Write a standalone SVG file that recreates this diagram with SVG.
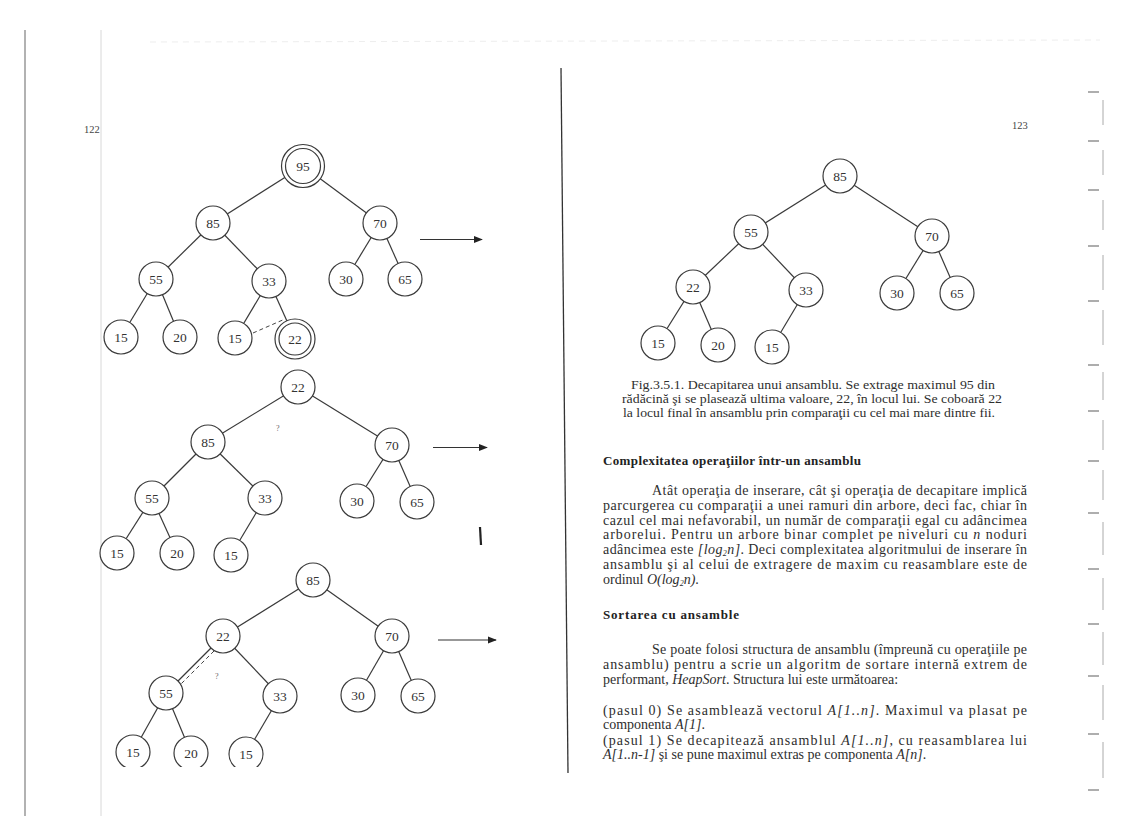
<svg xmlns="http://www.w3.org/2000/svg" width="1123" height="816" viewBox="0 0 1123 816">
<style>
.e{stroke:#3a3a3a;stroke-width:1.2;fill:none}
.d{stroke:#444;stroke-width:1;stroke-dasharray:4 3;fill:none}
.n circle{fill:#fff;stroke:#3a3a3a;stroke-width:1.2}
.n text{font-family:"Liberation Serif",serif;font-size:13.5px;fill:#333;text-anchor:middle}
.ar{stroke:#333;stroke-width:1.2;marker-end:url(#ah)}
.t{font-family:"Liberation Serif",serif;font-size:14px;fill:#2e2e2e}
.c{font-family:"Liberation Serif",serif;font-size:13px;fill:#2e2e2e}
.h{font-family:"Liberation Serif",serif;font-size:13px;font-weight:bold;fill:#222}
.i{font-style:italic}
.s{font-size:8px}
.pg{font-family:"Liberation Serif",serif;font-size:10.5px;fill:#444}
.q{font-family:"Liberation Serif",serif;font-size:8px;fill:#666}
</style>
<defs>
<marker id="ah" viewBox="0 0 10 10" refX="9" refY="5" markerWidth="9" markerHeight="9" markerUnits="userSpaceOnUse" orient="auto"><path d="M0,1 L10,5 L0,9 Z" fill="#222"/></marker>
<clipPath id="cut"><rect x="0" y="0" width="1123" height="767"/></clipPath>
</defs>
<rect width="1123" height="816" fill="#fff"/>

<g id="scan-marks">
<line x1="25" y1="30" x2="25" y2="816" stroke="#999" stroke-width="1.5"/>
<line x1="101" y1="30" x2="101" y2="816" stroke="#d8d8d8"/>
<line x1="150" y1="42" x2="1100" y2="40" stroke="#eeeeee" stroke-dasharray="6 5"/>
<line x1="561" y1="68" x2="568" y2="773" stroke="#333" stroke-width="1.3"/>
<line x1="480" y1="527" x2="481" y2="545" stroke="#222" stroke-width="2.2"/>
<g stroke="#777" stroke-width="1.2">
<line x1="1088" y1="92" x2="1099" y2="92"/><line x1="1088" y1="141" x2="1099" y2="141"/>
<line x1="1088" y1="190" x2="1099" y2="190"/><line x1="1088" y1="246" x2="1099" y2="246"/>
<line x1="1088" y1="301" x2="1099" y2="301"/><line x1="1088" y1="365" x2="1099" y2="365"/>
<line x1="1088" y1="411" x2="1099" y2="411"/><line x1="1088" y1="461" x2="1099" y2="461"/>
<line x1="1088" y1="513" x2="1099" y2="513"/><line x1="1088" y1="569" x2="1099" y2="569"/>
<line x1="1088" y1="624" x2="1099" y2="624"/><line x1="1088" y1="676" x2="1099" y2="676"/>
<line x1="1088" y1="734" x2="1099" y2="734"/><line x1="1088" y1="790" x2="1099" y2="790"/>
</g>
<g stroke="#aaa" stroke-width="1">
<line x1="1103" y1="100" x2="1103" y2="125"/><line x1="1103" y1="150" x2="1103" y2="175"/>
<line x1="1103" y1="200" x2="1103" y2="230"/><line x1="1103" y1="255" x2="1103" y2="290"/>
<line x1="1103" y1="310" x2="1103" y2="345"/><line x1="1103" y1="372" x2="1103" y2="400"/>
<line x1="1103" y1="420" x2="1103" y2="450"/><line x1="1103" y1="470" x2="1103" y2="500"/>
<line x1="1103" y1="522" x2="1103" y2="555"/><line x1="1103" y1="578" x2="1103" y2="610"/>
<line x1="1103" y1="632" x2="1103" y2="665"/><line x1="1103" y1="685" x2="1103" y2="720"/>
<line x1="1103" y1="742" x2="1103" y2="778"/>
</g>
</g>

<text class="pg" x="84" y="133">122</text>
<text class="pg" x="1012" y="129">123</text>

<g id="connectors">
<!-- tree 1 -->
<line class="e" x1="303" y1="166" x2="213" y2="223"/>
<line class="e" x1="303" y1="166" x2="380" y2="223"/>
<line class="e" x1="213" y1="223" x2="156" y2="279"/>
<line class="e" x1="213" y1="223" x2="269" y2="281"/>
<line class="e" x1="380" y1="223" x2="346" y2="279"/>
<line class="e" x1="380" y1="223" x2="405" y2="279"/>
<line class="e" x1="156" y1="279" x2="121" y2="337"/>
<line class="e" x1="156" y1="279" x2="180" y2="337"/>
<line class="e" x1="269" y1="281" x2="235" y2="338"/>
<line class="e" x1="269" y1="281" x2="295" y2="339"/>
<line class="d" x1="253" y1="333" x2="285" y2="319"/>
<line class="ar" x1="420" y1="239.5" x2="482" y2="239.5"/>
<!-- tree 2 -->
<line class="e" x1="298" y1="387" x2="208" y2="442"/>
<line class="e" x1="298" y1="387" x2="392" y2="445"/>
<line class="e" x1="208" y1="442" x2="152" y2="498"/>
<line class="e" x1="208" y1="442" x2="265" y2="498"/>
<line class="e" x1="392" y1="445" x2="357" y2="501"/>
<line class="e" x1="392" y1="445" x2="417" y2="502"/>
<line class="e" x1="152" y1="498" x2="117" y2="553"/>
<line class="e" x1="152" y1="498" x2="177" y2="553"/>
<line class="e" x1="265" y1="498" x2="231" y2="555"/>
<line class="ar" x1="433" y1="447.5" x2="487" y2="447.5"/>
<!-- tree 3 -->
<line class="e" x1="313" y1="580" x2="223" y2="636"/>
<line class="e" x1="313" y1="580" x2="392" y2="636"/>
<line class="e" x1="223" y1="636" x2="166" y2="693"/>
<line class="e" x1="223" y1="636" x2="280" y2="696"/>
<line class="e" x1="392" y1="636" x2="358" y2="695"/>
<line class="e" x1="392" y1="636" x2="418" y2="696"/>
<line class="e" x1="166" y1="693" x2="133" y2="752"/>
<line class="e" x1="166" y1="693" x2="191" y2="753"/>
<line class="e" x1="280" y1="696" x2="246" y2="754"/>
<line class="d" x1="214" y1="651" x2="181" y2="684"/>
<line class="ar" x1="438" y1="640" x2="496" y2="640"/>
<!-- tree 4 -->
<line class="e" x1="840" y1="176" x2="751" y2="232"/>
<line class="e" x1="840" y1="176" x2="932" y2="236"/>
<line class="e" x1="751" y1="232" x2="693" y2="287"/>
<line class="e" x1="751" y1="232" x2="806" y2="290"/>
<line class="e" x1="932" y1="236" x2="897" y2="293"/>
<line class="e" x1="932" y1="236" x2="957" y2="293"/>
<line class="e" x1="693" y1="287" x2="658" y2="343"/>
<line class="e" x1="693" y1="287" x2="718" y2="345"/>
<line class="e" x1="806" y1="290" x2="772" y2="347"/>
</g>

<g id="tree1">
<g id="t1-95" class="n"><circle cx="303" cy="166" r="21.5"/><circle cx="303" cy="166" r="17.5"/><text x="303" y="170.5">95</text></g>
<g id="t1-85" class="n"><circle cx="213" cy="223" r="17"/><text x="213" y="227.5">85</text></g>
<g id="t1-70" class="n"><circle cx="380" cy="223" r="17"/><text x="380" y="227.5">70</text></g>
<g id="t1-55" class="n"><circle cx="156" cy="279" r="17"/><text x="156" y="283.5">55</text></g>
<g id="t1-33" class="n"><circle cx="269" cy="281" r="17"/><text x="269" y="285.5">33</text></g>
<g id="t1-30" class="n"><circle cx="346" cy="279" r="17"/><text x="346" y="283.5">30</text></g>
<g id="t1-65" class="n"><circle cx="405" cy="279" r="17"/><text x="405" y="283.5">65</text></g>
<g id="t1-15a" class="n"><circle cx="121" cy="337" r="17"/><text x="121" y="341.5">15</text></g>
<g id="t1-20" class="n"><circle cx="180" cy="337" r="17"/><text x="180" y="341.5">20</text></g>
<g id="t1-15b" class="n"><circle cx="235" cy="338" r="17"/><text x="235" y="342.5">15</text></g>
<g id="t1-22" class="n"><circle cx="295" cy="339" r="20"/><circle cx="295" cy="339" r="16"/><text x="295" y="343.5">22</text></g>
</g>

<g id="tree2">
<g id="t2-22" class="n"><circle cx="298" cy="387" r="17"/><text x="298" y="391.5">22</text></g>
<g id="t2-85" class="n"><circle cx="208" cy="442" r="17"/><text x="208" y="446.5">85</text></g>
<g id="t2-70" class="n"><circle cx="392" cy="445" r="17"/><text x="392" y="449.5">70</text></g>
<g id="t2-55" class="n"><circle cx="152" cy="498" r="17"/><text x="152" y="502.5">55</text></g>
<g id="t2-33" class="n"><circle cx="265" cy="498" r="17"/><text x="265" y="502.5">33</text></g>
<g id="t2-30" class="n"><circle cx="357" cy="501" r="17"/><text x="357" y="505.5">30</text></g>
<g id="t2-65" class="n"><circle cx="417" cy="502" r="17"/><text x="417" y="506.5">65</text></g>
<g id="t2-15a" class="n"><circle cx="117" cy="553" r="17"/><text x="117" y="557.5">15</text></g>
<g id="t2-20" class="n"><circle cx="177" cy="553" r="17"/><text x="177" y="557.5">20</text></g>
<g id="t2-15b" class="n"><circle cx="231" cy="555" r="17"/><text x="231" y="559.5">15</text></g>
<text class="q" x="276" y="431">?</text>
</g>

<g id="tree3">
<g id="t3-85" class="n"><circle cx="313" cy="580" r="17"/><text x="313" y="584.5">85</text></g>
<g id="t3-22" class="n"><circle cx="223" cy="636" r="17"/><text x="223" y="640.5">22</text></g>
<g id="t3-70" class="n"><circle cx="392" cy="636" r="17"/><text x="392" y="640.5">70</text></g>
<g id="t3-55" class="n"><circle cx="166" cy="693" r="17"/><text x="166" y="697.5">55</text></g>
<g id="t3-33" class="n"><circle cx="280" cy="696" r="17"/><text x="280" y="700.5">33</text></g>
<g id="t3-30" class="n"><circle cx="358" cy="695" r="17"/><text x="358" y="699.5">30</text></g>
<g id="t3-65" class="n"><circle cx="418" cy="696" r="17"/><text x="418" y="700.5">65</text></g>
<g clip-path="url(#cut)">
<g id="t3-15a" class="n"><circle cx="133" cy="752" r="17"/><text x="133" y="756.5">15</text></g>
<g id="t3-20" class="n"><circle cx="191" cy="753" r="17"/><text x="191" y="757.5">20</text></g>
<g id="t3-15b" class="n"><circle cx="246" cy="754" r="17"/><text x="246" y="758.5">15</text></g>
</g>
<text class="q" x="215" y="679">?</text>
</g>

<g id="tree4">
<g id="t4-85" class="n"><circle cx="840" cy="176" r="17"/><text x="840" y="180.5">85</text></g>
<g id="t4-55" class="n"><circle cx="751" cy="232" r="17"/><text x="751" y="236.5">55</text></g>
<g id="t4-70" class="n"><circle cx="932" cy="236" r="17"/><text x="932" y="240.5">70</text></g>
<g id="t4-22" class="n"><circle cx="693" cy="287" r="17"/><text x="693" y="291.5">22</text></g>
<g id="t4-33" class="n"><circle cx="806" cy="290" r="17"/><text x="806" y="294.5">33</text></g>
<g id="t4-30" class="n"><circle cx="897" cy="293" r="17"/><text x="897" y="297.5">30</text></g>
<g id="t4-65" class="n"><circle cx="957" cy="293" r="17"/><text x="957" y="297.5">65</text></g>
<g id="t4-15a" class="n"><circle cx="658" cy="343" r="17"/><text x="658" y="347.5">15</text></g>
<g id="t4-20" class="n"><circle cx="718" cy="345" r="17"/><text x="718" y="349.5">20</text></g>
<g id="t4-15b" class="n"><circle cx="772" cy="347" r="17"/><text x="772" y="351.5">15</text></g>
</g>

<g id="caption" class="c" text-anchor="middle">
<text x="813" y="389" textLength="364" lengthAdjust="spacingAndGlyphs">Fig.3.5.1. Decapitarea unui ansamblu. Se extrage maximul 95 din</text>
<text x="812" y="403" textLength="380" lengthAdjust="spacingAndGlyphs">rădăcină şi se plasează ultima valoare, 22, în locul lui. Se coboară 22</text>
<text x="809" y="417" textLength="372" lengthAdjust="spacingAndGlyphs">la locul final în ansamblu prin comparaţii cu cel mai mare dintre fii.</text>
</g>

<text class="h" x="603" y="465" textLength="258" lengthAdjust="spacing">Complexitatea operaţiilor într-un ansamblu</text>

<g id="para1" class="t">
<text x="652" y="495" textLength="375" lengthAdjust="spacing">Atât operaţia de inserare, cât şi operaţia de decapitare implică</text>
<text x="603" y="509.8" textLength="424" lengthAdjust="spacing">parcurgerea cu comparaţii a unei ramuri din arbore, deci fac, chiar în</text>
<text x="603" y="524.6" textLength="424" lengthAdjust="spacing">cazul cel mai nefavorabil, un număr de comparaţii egal cu adâncimea</text>
<text x="603" y="539.4" textLength="424" lengthAdjust="spacing">arborelui. Pentru un arbore binar complet pe niveluri cu <tspan class="i">n</tspan> noduri</text>
<text x="603" y="554.2" textLength="424" lengthAdjust="spacing">adâncimea este <tspan class="i">[log<tspan class="s" dy="2">2</tspan><tspan dy="-2">n]</tspan></tspan>. Deci complexitatea algoritmului de inserare în</text>
<text x="603" y="569" textLength="424" lengthAdjust="spacing">ansamblu şi al celui de extragere de maxim cu reasamblare este de</text>
<text x="603" y="583.8">ordinul <tspan class="i">O(log<tspan class="s" dy="2">2</tspan><tspan dy="-2">n)</tspan></tspan>.</text>
</g>

<text class="h" x="603" y="619" textLength="136" lengthAdjust="spacing">Sortarea cu ansamble</text>

<g id="para2" class="t">
<text x="652" y="654" textLength="375" lengthAdjust="spacing">Se poate folosi structura de ansamblu (împreună cu operaţiile pe</text>
<text x="603" y="668.8" textLength="424" lengthAdjust="spacing">ansamblu) pentru a scrie un algoritm de sortare internă extrem de</text>
<text x="603" y="683.6">performant, <tspan class="i">HeapSort</tspan>. Structura lui este următoarea:</text>
<text x="603" y="715" textLength="424" lengthAdjust="spacing">(pasul 0) Se asamblează vectorul <tspan class="i">A[1..n]</tspan>. Maximul va plasat pe</text>
<text x="603" y="729">componenta <tspan class="i">A[1]</tspan>.</text>
<text x="603" y="745" textLength="424" lengthAdjust="spacing">(pasul 1) Se decapitează ansamblul <tspan class="i">A[1..n]</tspan>, cu reasamblarea lui</text>
<text x="603" y="759"><tspan class="i">A[1..n-1]</tspan> şi se pune maximul extras pe componenta <tspan class="i">A[n]</tspan>.</text>
</g>
</svg>
